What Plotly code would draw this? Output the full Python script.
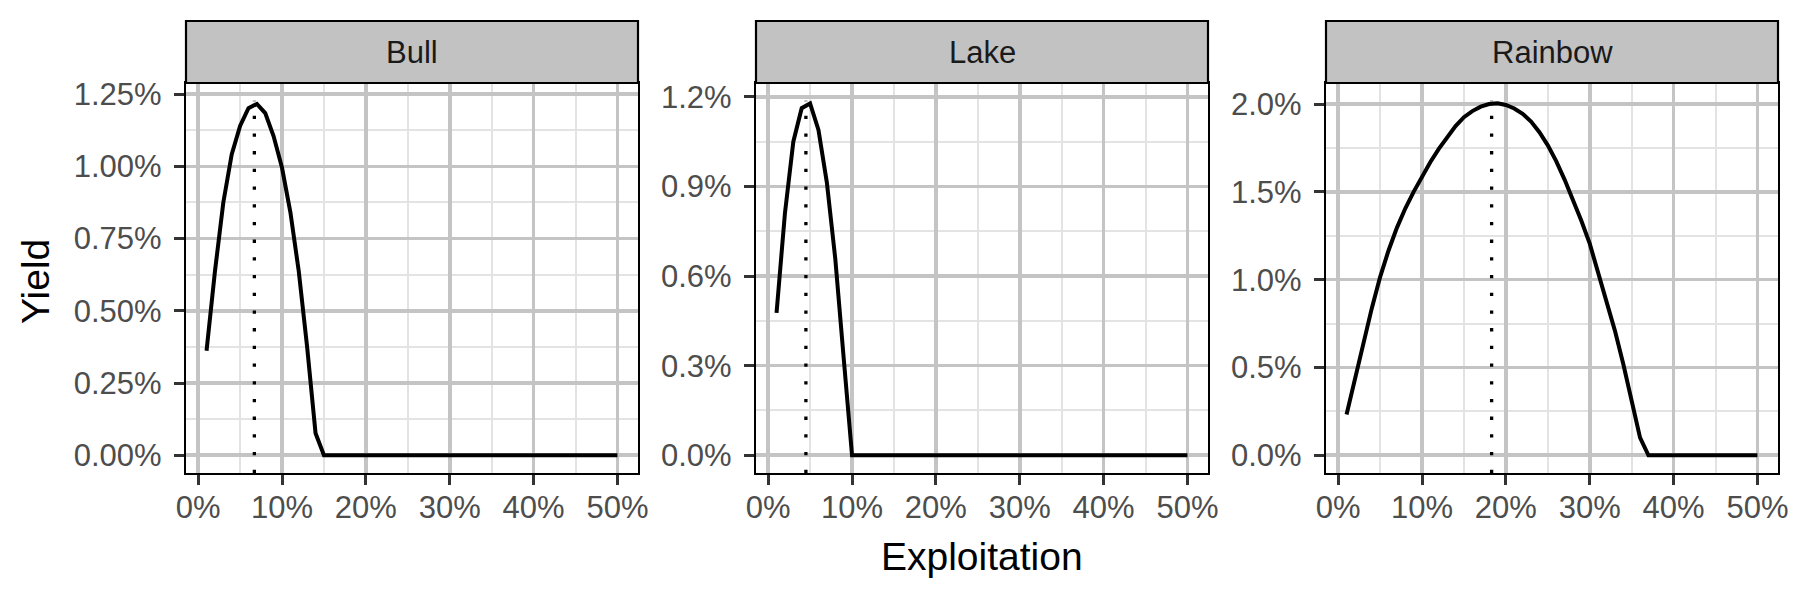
import plotly.graph_objects as go

# ---------------- data ----------------
exploitation = [i / 100 for i in range(1, 51)]  # 1% .. 50%

bull_yield_pct = [0.362, 0.636, 0.875, 1.041, 1.140, 1.201, 1.216, 1.184, 1.104, 0.995,
                  0.841, 0.636, 0.373, 0.076] + [0.0] * 36
lake_yield_pct = [0.477, 0.810, 1.050, 1.162, 1.178, 1.089, 0.913, 0.659, 0.328, 0.0] + [0.0] * 40
rainbow_yield_pct = [0.232, 0.440, 0.640, 0.835, 1.015, 1.165, 1.295, 1.405, 1.500, 1.590,
                     1.670, 1.745, 1.815, 1.875, 1.925, 1.960, 1.985, 2.000, 2.005, 1.995,
                     1.975, 1.945, 1.900, 1.840, 1.765, 1.675, 1.570, 1.455, 1.335, 1.205,
                     1.045, 0.880, 0.710, 0.520, 0.315, 0.100] + [0.0] * 14

species = ["Bull", "Lake", "Rainbow"]
optimum_exploitation = [0.067, 0.045, 0.183]
optimum_yield_pct = [1.227, 1.187, 2.019]
y_tick_pct = [[0, 0.25, 0.5, 0.75, 1.0, 1.25], [0, 0.3, 0.6, 0.9, 1.2], [0, 0.5, 1.0, 1.5, 2.0]]
y_tick_format = [".2%", ".1%", ".1%"]
x_tick_vals = [0, 0.1, 0.2, 0.3, 0.4, 0.5]

series = [bull_yield_pct, lake_yield_pct, rainbow_yield_pct]

# ---------------- layout geometry ----------------
W, H = 1799, 599
panel_left = [186, 756, 1326]
panel_w = 452
panel_top, panel_bottom = 83, 473
strip_h = 62
font_family = "Liberation Sans, Arial, Helvetica, sans-serif"

major_grid = "#C4C4C4"
minor_grid = "#E3E3E3"

fig = go.Figure()
layout = dict(
    width=W, height=H, autosize=False,
    margin=dict(l=0, r=0, t=0, b=0, autoexpand=False),
    paper_bgcolor="white", plot_bgcolor="white",
    showlegend=False,
    font=dict(family=font_family),
)
shapes = []
annotations = []

x_lo = min(exploitation)
x_hi = max(exploitation)
x_pad = 0.05 * (x_hi - x_lo)
x_range = [x_lo - x_pad, x_hi + x_pad]

for i, (name, ys) in enumerate(zip(species, series)):
    n = i + 1
    xa = "xaxis" if n == 1 else f"xaxis{n}"
    ya = "yaxis" if n == 1 else f"yaxis{n}"
    xref = "x" if n == 1 else f"x{n}"
    yref = "y" if n == 1 else f"y{n}"

    yvals = [v / 100 for v in ys]
    ymax = max(max(yvals), optimum_yield_pct[i] / 100)
    y_range = [-0.05 * ymax, 1.05 * ymax]
    yt = [v / 100 for v in y_tick_pct[i]]
    ystep = yt[1] - yt[0]

    # yield curve
    fig.add_trace(go.Scatter(x=exploitation, y=yvals, mode="lines",
                             line=dict(color="black", width=4),
                             xaxis=xref, yaxis=yref, hoverinfo="skip"))
    # dotted optimum segment
    fig.add_trace(go.Scatter(x=[optimum_exploitation[i], optimum_exploitation[i]],
                             y=[y_range[0], optimum_yield_pct[i] / 100], mode="lines",
                             line=dict(color="black", width=3.3, dash="3.3px,14.4px"),
                             xaxis=xref, yaxis=yref, hoverinfo="skip"))

    x0 = panel_left[i] / W
    x1 = (panel_left[i] + panel_w) / W
    layout[xa] = dict(
        domain=[x0, x1], range=x_range, anchor=yref, automargin=False,
        tickvals=x_tick_vals, tickformat=".0%",
        ticks="outside", ticklen=10, tickwidth=3, tickcolor="#333333",
        tickfont=dict(size=31, color="#4D4D4D", family=font_family),
        showgrid=True, gridcolor=major_grid, gridwidth=3.6,
        minor=dict(tickvals=[0.05, 0.15, 0.25, 0.35, 0.45], showgrid=True,
                   gridcolor=minor_grid, gridwidth=2, ticks=""),
        zeroline=False, showline=True, mirror=True, linecolor="black", linewidth=2.2,
        ticklabelstandoff=-4,
    )
    minor_vals = [yt[0] - ystep / 2] + [v + ystep / 2 for v in yt]
    layout[ya] = dict(
        domain=[(H - panel_bottom) / H, (H - panel_top) / H], range=y_range, anchor=xref,
        automargin=False,
        tickvals=yt, tickformat=y_tick_format[i],
        ticks="outside", ticklen=10, tickwidth=3, tickcolor="#333333",
        tickfont=dict(size=31, color="#4D4D4D", family=font_family),
        showgrid=True, gridcolor=major_grid, gridwidth=3.6,
        minor=dict(tickvals=minor_vals, showgrid=True, gridcolor=minor_grid,
                   gridwidth=2, ticks=""),
        zeroline=False, showline=True, mirror=True, linecolor="black", linewidth=2.2,
        ticklabelstandoff=6,
    )

    # strip
    top_frac = 1 + strip_h / (panel_bottom - panel_top)
    shapes.append(dict(type="rect", xref=f"{xref} domain", yref=f"{yref} domain",
                       x0=0, x1=1, y0=1, y1=top_frac,
                       fillcolor="#C2C2C2", line=dict(color="black", width=2.2), layer="above"))
    annotations.append(dict(text=name, xref=f"{xref} domain", yref=f"{yref} domain",
                            x=0.5, y=1 + (strip_h / 2) / (panel_bottom - panel_top),
                            xanchor="center", yanchor="middle", showarrow=False,
                            font=dict(size=31, color="#1A1A1A", family=font_family)))

annotations.append(dict(text="Yield", xref="paper", yref="paper",
                        x=35 / W, y=(H - 282) / H, textangle=-90,
                        xanchor="center", yanchor="middle", showarrow=False,
                        font=dict(size=39, color="black", family=font_family)))
annotations.append(dict(text="Exploitation", xref="paper", yref="paper",
                        x=982 / W, y=(H - 556) / H,
                        xanchor="center", yanchor="middle", showarrow=False,
                        font=dict(size=39, color="black", family=font_family)))

layout["shapes"] = shapes
layout["annotations"] = annotations
fig.update_layout(**layout)
fig.write_html("out.html",
               config={"displayModeBar": False, "staticPlot": True},
               post_script="document.body.style.margin='0';document.body.style.overflow='hidden';")
